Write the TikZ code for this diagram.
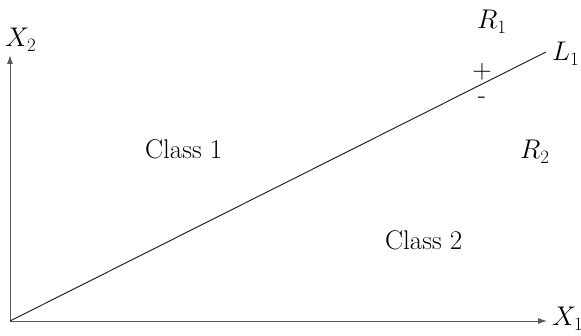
\RequirePackage{fix-cm}
\documentclass[tikz,border=0pt]{standalone}
\usetikzlibrary{arrows.meta}
\tikzset{
  lbl/.style={inner sep=0pt, anchor=base west, font=\fontsize{27}{32}\selectfont},
  axis/.style={draw=black!65, line width=0.9pt, -{Latex[length=9pt,width=6pt]}},
  sep/.style={draw=black!85, line width=1pt}
}
\begin{document}
\begin{tikzpicture}[x=1pt,y=-1pt]
\useasboundingbox (0,0) rectangle (581,336);
\coordinate (O) at (10,321);
\coordinate (X1end) at (547,321);
\coordinate (X2end) at (10,55);
\coordinate (Lend) at (546,52);
\draw[axis] (O) -- (X1end);
\draw[axis] (O) -- (X2end);
\draw[sep] (O) -- (Lend);
\node[lbl] (x2) at (5,47) {$X_2$};
\node[lbl] (x1) at (552,326) {$X_1$};
\node[lbl] (r1) at (477,29) {$R_1$};
\node[lbl] (l1) at (552,61) {$L_1$};
\node[lbl] (r2) at (520,159) {$R_2$};
\node[lbl] (c1) at (145,159) {Class 1};
\node[lbl] (c2) at (385,250) {Class 2};
\node[inner sep=0pt, font=\fontsize{27}{32}\selectfont] (plus) at (482,72) {$+$};
\node[inner sep=0pt, font=\fontsize{27}{32}\selectfont] (minus) at (482,100) {-};
\end{tikzpicture}
\end{document}
